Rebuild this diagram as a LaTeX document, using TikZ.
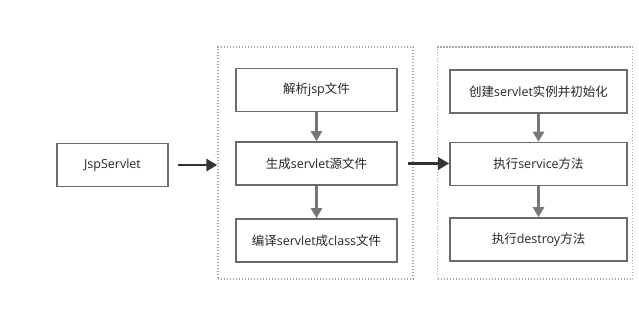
\documentclass[tikz,border=0pt]{standalone}
\usepackage{fontspec}
\setmainfont{Noto Sans CJK SC}
\newfontfamily\lat{Open Sans}
\usetikzlibrary{arrows.meta}
\definecolor{boxline}{HTML}{6A6A6A}
\definecolor{dotline}{HTML}{A8A8A8}
\definecolor{varrow}{HTML}{777777}
\definecolor{harrow}{HTML}{333333}
\begin{document}
\begin{tikzpicture}[x=1pt,y=-1pt,
  stepbox/.style={draw=boxline,line width=1.6pt,minimum width=#1,minimum height=43pt,inner sep=0pt,
    font=\fontsize{12.5}{14}\selectfont,text=black!85},
  stepbox/.default=161pt,
  groupbox/.style={draw=dotline,line width=1.4pt,dash pattern=on 1.2pt off 1.8pt,minimum width=195pt,minimum height=232pt,inner sep=0pt},
  varr/.style={draw=varrow,line width=2.4pt,-{Triangle[length=10pt,width=11pt]}},
  harr/.style={draw=harrow,line width=2.8pt,-{Triangle[length=11pt,width=12pt]}}]
\useasboundingbox (0,0) rectangle (639,319);
\node[groupbox] (g1) at (315.5,163) {};
\node[groupbox] (g2) at (535,163) {};
\node[stepbox=111pt] (jsp) at (112.5,165) {\lat JspServlet};
\node[stepbox] (a1) at (316.5,90) {解析{\lat jsp}文件};
\node[stepbox] (a2) at (316.5,163.5) {生成{\lat servlet}源文件};
\node[stepbox] (a3) at (316.5,240.5) {编译{\lat servlet}成{\lat class}文件};
\node[stepbox=177pt] (b1) at (538.5,91.5) {创建{\lat servlet}实例并初始化};
\node[stepbox=177pt] (b2) at (538.5,164) {执行{\lat service}方法};
\node[stepbox=177pt] (b3) at (538.5,239.5) {执行{\lat destroy}方法};
\draw[varr] (a1) -- (a2);
\draw[varr] (a2) -- (a3);
\draw[varr] (b1) -- (b2);
\draw[varr] (b2) -- (b3);
\draw[harr] (jsp.east) ++(9pt,0) coordinate (s1) (s1) -- (g1.west |- jsp.east);
\draw[harr] (a2.east) ++(10pt,0) coordinate (s2) (s2) -- (b2.west |- a2.east);
\end{tikzpicture}
\end{document}
